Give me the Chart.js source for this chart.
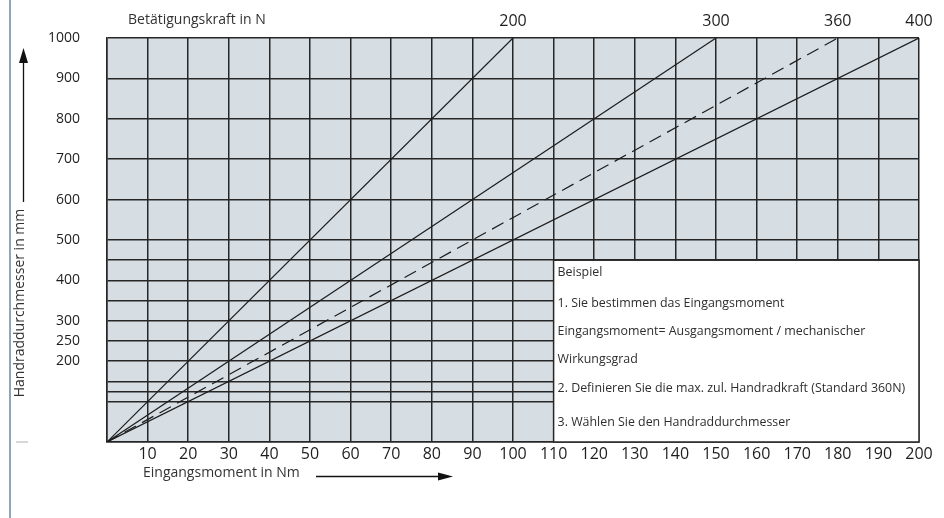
<!DOCTYPE html>
<html lang="de">
<head>
<meta charset="UTF-8">
<title>Handraddurchmesser / Eingangsmoment</title>
<script src="https://cdn.jsdelivr.net/npm/chart.js"></script>
<style>
  body { margin: 0; background: #fff; }
  #wrap { width: 944px; height: 518px; position: relative; }
</style>
</head>
<body>
<div id="wrap"><canvas id="chart"></canvas></div>
<script>
// Betätigungskraft (N) und das Eingangsmoment (Nm), bei dem die Linie 1000 mm erreicht
const forces = [200, 300, 360, 400];
const torqueAt1000 = [100, 150, 180, 200];
const diameterAtEnd = 1000;
const dashedForce = 360;

// Achsen
const xTicks = [0, 10, 20, 30, 40, 50, 60, 70, 80, 90, 100, 110, 120, 130, 140, 150, 160, 170, 180, 190, 200];
const yGridValues = [0, 100, 125, 150, 200, 250, 300, 350, 400, 450, 500, 600, 700, 800, 900, 1000];
const yLabelValues = [200, 250, 300, 400, 500, 600, 700, 800, 900, 1000];

// Hinweisfeld
const noteLines = [
  "Beispiel",
  "1. Sie bestimmen das Eingangsmoment",
  "Eingangsmoment= Ausgangsmoment / mechanischer",
  "Wirkungsgrad",
  "2. Definieren Sie die max. zul. Handradkraft (Standard 360N)",
  "3. Wählen Sie den Handraddurchmesser"
];

const FONT = "'Open Sans', 'Noto Sans', sans-serif";
const GRID = "#262626";

const datasets = forces.map((f, i) => ({
  label: f + " N",
  data: [{ x: 0, y: 0 }, { x: torqueAt1000[i], y: diameterAtEnd }],
  showLine: true,
  borderColor: "#1c1c1c",
  borderWidth: 1.2,
  borderDash: f === dashedForce ? [13, 7] : [],
  pointRadius: 0
}));

function arrow(ctx, x1, y1, x2, y2, head, half) {
  const a = Math.atan2(y2 - y1, x2 - x1);
  ctx.beginPath();
  ctx.moveTo(x1, y1);
  ctx.lineTo(x2 - Math.cos(a) * head, y2 - Math.sin(a) * head);
  ctx.stroke();
  ctx.beginPath();
  ctx.moveTo(x2, y2);
  ctx.lineTo(x2 - Math.cos(a) * head - Math.sin(a) * half, y2 - Math.sin(a) * head + Math.cos(a) * half);
  ctx.lineTo(x2 - Math.cos(a) * head + Math.sin(a) * half, y2 - Math.sin(a) * head - Math.cos(a) * half);
  ctx.closePath();
  ctx.fill();
}

const decor = {
  id: "decor",
  beforeDraw(chart) {
    const { ctx, chartArea: a } = chart;
    ctx.save();
    ctx.fillStyle = "#d6dee4";
    ctx.fillRect(a.left, a.top, a.right - a.left, a.bottom - a.top);
    ctx.restore();
  },
  beforeDatasetsDraw(chart) {
    // weißes Hinweisfeld über dem Raster
    const { ctx, scales: { x, y } } = chart;
    const l = x.getPixelForValue(110), r = x.getPixelForValue(200);
    const t = y.getPixelForValue(450), b = y.getPixelForValue(0);
    ctx.save();
    ctx.fillStyle = "#fff";
    ctx.fillRect(l, t, r - l, b - t);
    ctx.strokeStyle = GRID;
    ctx.lineWidth = 1.5;
    ctx.strokeRect(l, t, r - l, b - t);
    ctx.fillStyle = "#2e2e2e";
    ctx.font = "12.4px " + FONT;
    ctx.textBaseline = "middle";
    const offs = [12, 43, 71, 99, 128, 162];
    noteLines.forEach((s, i) => ctx.fillText(s, l + 4, t + offs[i]));
    ctx.restore();
  },
  afterDraw(chart) {
    const { ctx } = chart;
    ctx.save();
    // linker Rand
    ctx.strokeStyle = "#70879a";
    ctx.lineWidth = 1.5;
    ctx.beginPath(); ctx.moveTo(10, 0); ctx.lineTo(10, 518); ctx.stroke();
    ctx.strokeStyle = "#b0b0b0";
    ctx.lineWidth = 1;
    ctx.beginPath(); ctx.moveTo(16, 442); ctx.lineTo(28, 442); ctx.stroke();

    ctx.fillStyle = "#333";
    ctx.font = "14px " + FONT;
    ctx.textBaseline = "middle";
    ctx.fillText("Betätigungskraft in N", 128, 20);
    ctx.fillText("Eingangsmoment in Nm", 143, 473);

    ctx.save();
    ctx.translate(20, 303);
    ctx.rotate(-Math.PI / 2);
    ctx.textAlign = "center";
    ctx.fillText("Handraddurchmesser in mm", 0, 0);
    ctx.restore();

    ctx.strokeStyle = "#111";
    ctx.fillStyle = "#111";
    ctx.lineWidth = 1.3;
    arrow(ctx, 23.5, 202, 23.5, 48, 15, 4.5);
    arrow(ctx, 316, 476.5, 453, 476.5, 15, 4);
    ctx.restore();
  }
};

new Chart(document.getElementById("chart"), {
  type: "scatter",
  data: { datasets },
  options: {
    responsive: true,
    maintainAspectRatio: false,
    animation: false,
    events: [],
    layout: { padding: { left: 0, right: 25, top: 0, bottom: 0 } },
    plugins: { legend: { display: false }, tooltip: { enabled: false } },
    scales: {
      x: {
        type: "linear",
        position: "bottom",
        min: 0, max: 200,
        afterBuildTicks: s => { s.ticks = xTicks.map(v => ({ value: v })); },
        afterFit: s => { s.height = 76; },
        grid: { color: GRID, lineWidth: 1.5, drawTicks: false },
        border: { color: GRID, width: 1.5 },
        ticks: {
          padding: 3,
          color: "#1e1e1e",
          font: { family: FONT, size: 16, weight: "500" },
          maxRotation: 0,
          autoSkip: false,
          callback: v => (v === 0 ? "" : v)
        }
      },
      x2: {
        type: "linear",
        position: "top",
        min: 0, max: 200,
        afterBuildTicks: s => { s.ticks = torqueAt1000.map(v => ({ value: v })); },
        afterFit: s => { s.height = 38; },
        grid: { display: false, drawTicks: false },
        border: { display: false },
        ticks: {
          padding: 7,
          color: "#1e1e1e",
          font: { family: FONT, size: 16, weight: "500" },
          maxRotation: 0,
          autoSkip: false,
          callback: (v, i) => String(forces[i])
        }
      },
      y: {
        type: "linear",
        min: 0, max: 1000,
        afterBuildTicks: s => { s.ticks = yGridValues.map(v => ({ value: v })); },
        afterFit: s => { s.width = 107; },
        grid: { color: GRID, lineWidth: 1.5, drawTicks: false },
        border: { color: GRID, width: 1.5 },
        ticks: {
          padding: 27,
          color: "#1e1e1e",
          font: { family: FONT, size: 14, weight: "500" },
          autoSkip: false,
          callback: v => (yLabelValues.includes(v) ? v : "")
        }
      }
    }
  },
  plugins: [decor]
});
</script>
</body>
</html>
